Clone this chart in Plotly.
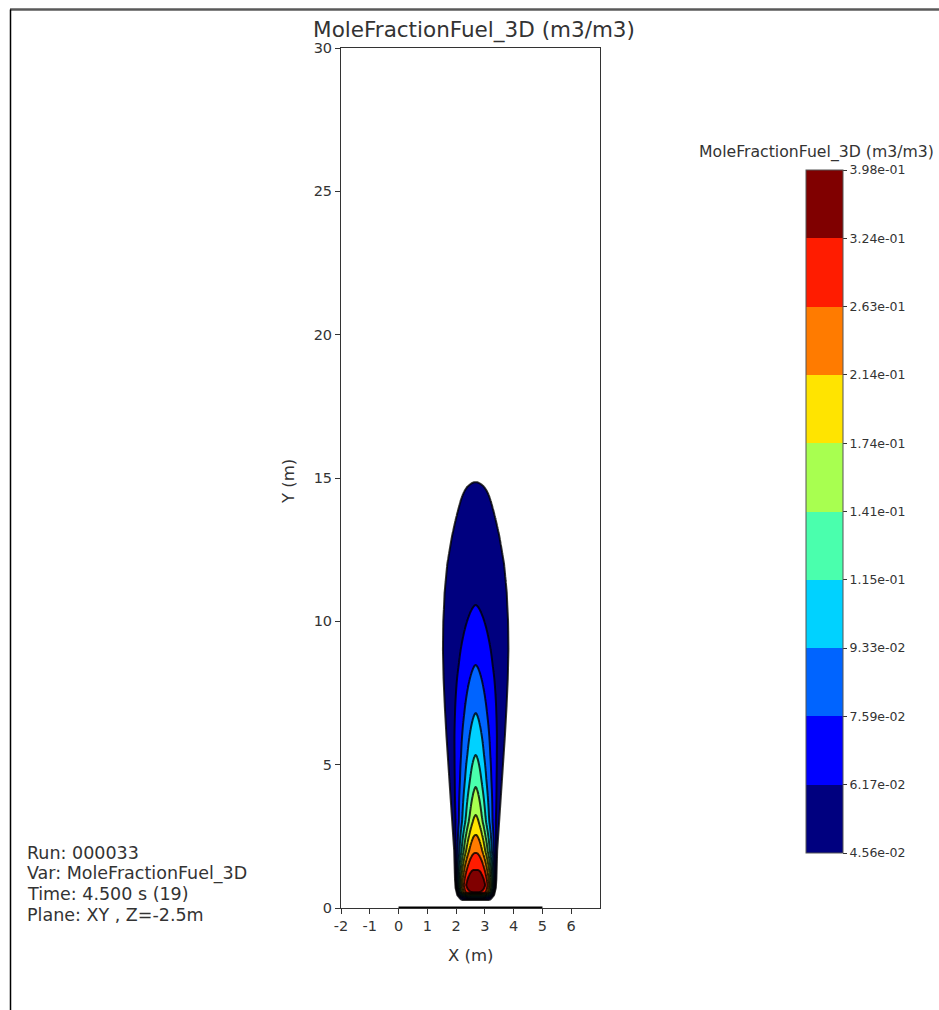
import numpy as np
import plotly.graph_objects as go

# ---------------- data ----------------
level_values = [0.0456, 0.0617, 0.0759, 0.0933, 0.115, 0.141, 0.174, 0.214, 0.263, 0.324, 0.398]
level_labels = ["4.56e-02", "6.17e-02", "7.59e-02", "9.33e-02", "1.15e-01", "1.41e-01",
                "1.74e-01", "2.14e-01", "2.63e-01", "3.24e-01", "3.98e-01"]
band_colors = ["#00007f", "#0000ff", "#0064ff", "#00d2ff", "#4affad",
               "#a8ff50", "#ffe400", "#ff7b00", "#ff1c00", "#800000"]

# plume centreline: height (m) vs contour-level index (tops of each closed contour)
centre_y = [0.0, 0.18, 0.28, 0.55, 0.80, 1.33, 1.92, 2.55, 3.24, 4.22, 5.34, 6.80, 8.48, 10.57, 14.86, 16.0, 30.0]
centre_idx = [-1.5, -1.0, 0.0, 9.0, 9.9, 9.0, 8.0, 7.0, 6.0, 5.0, 4.0, 3.0, 2.0, 1.0, 0.0, -1.0, -1.0]
plume_x = 2.68

# plume outer half-width (m) vs height
width_y = [0.0, 0.18, 0.30, 0.45, 0.70, 1.0, 2.0, 3.0, 4.0, 5.0, 6.0, 7.0, 8.0, 9.0, 10.0, 11.0, 12.0, 13.0, 14.0, 14.5, 15.0, 30.0]
half_w = [0.30, 0.36, 0.52, 0.64, 0.70, 0.72, 0.75, 0.82, 0.89, 0.96, 1.03, 1.09, 1.14, 1.17, 1.17, 1.14, 1.06, 0.91, 0.72, 0.64, 0.58, 0.58]

# lateral profile shape exponent vs height
shape_y = [0.0, 1.0, 2.0, 3.0, 4.5, 30.0]
shape_p = [3.0, 2.2, 1.3, 0.9, 0.8, 0.8]

ground_x = [0, 5]
ground_y = [0, 0]

x_ticks = [-2, -1, 0, 1, 2, 3, 4, 5, 6]
x_tick_labels = ["-2", "-1", "0", "1", "2", "3", "4", "5", "6"]
y_ticks = [0, 5, 10, 15, 20, 25, 30]

info_lines = ["Run: 000033", "Var: MoleFractionFuel_3D", "Time: 4.500 s (19)", "Plane: XY , Z=-2.5m"]
title_text = "MoleFractionFuel_3D (m3/m3)"

# ---------------- build the field (in level-index space) ----------------
X = np.linspace(-2, 7, 361)
Y = np.concatenate([np.arange(0, 16.0, 0.025), [17.0, 20.0, 25.0, 30.0]])
ci = np.interp(Y, centre_y, centre_idx)[:, None]
hw = np.interp(Y, width_y, half_w)[:, None]
pp = np.interp(Y, shape_y, shape_p)[:, None]
R = np.abs(X[None, :] - plume_x) / hw
a = 0.25
U = (np.sqrt(R ** 2 + a ** 2) - a) / (np.sqrt(1 + a ** 2) - a)
G = U ** pp
Z = np.where(ci > 0, ci - (ci + 0.05) * G, ci - 0.05 * G)
Z = np.round(np.clip(Z, -1.5, 10), 3)

fill_scale = [[0.0, "#ffffff"]] + [[(k + 1) / 10, c] for k, c in enumerate(band_colors)]
bar_scale = []
for k, c in enumerate(band_colors):
    bar_scale.append([k / 10, c])
    bar_scale.append([(k + 1) / 10, c])

W, H = 939, 1010
FONT = "DejaVu Sans"
TXT = "#333333"

fig = go.Figure()
fig.add_trace(go.Contour(
    x=X, y=Y, z=Z, autocontour=False,
    contours=dict(start=0, end=9, size=1, coloring="fill", showlines=True),
    line=dict(color="rgba(0,0,0,0.8)", width=2.0, smoothing=1),
    colorscale=fill_scale, showscale=False, hoverinfo="skip"))

fig.add_trace(go.Scatter(
    x=ground_x, y=ground_y, mode="lines", line=dict(color="black", width=3),
    cliponaxis=False, showlegend=False, hoverinfo="skip"))

fig.add_trace(go.Scatter(
    x=[None], y=[None], mode="markers", showlegend=False, hoverinfo="skip",
    marker=dict(color=[0], colorscale=bar_scale, cmin=0, cmax=10, showscale=True,
                colorbar=dict(
                    tickmode="array", tickvals=list(range(11)), ticktext=level_labels,
                    ticks="outside", ticklen=4, tickwidth=1, tickcolor=TXT,
                    tickfont=dict(family=FONT, size=12.5, color=TXT),
                    thickness=37, thicknessmode="pixels",
                    len=683 / H, lenmode="fraction",
                    x=806 / W, xanchor="left", xpad=0,
                    y=(H - 170) / H, yanchor="top", ypad=0,
                    outlinewidth=1, outlinecolor="#555555"))))

axis_common = dict(ticks="outside", ticklen=5, tickwidth=1, tickcolor=TXT,
                   showline=True, linecolor=TXT, linewidth=1, mirror=True,
                   showgrid=False, zeroline=False, automargin=False,
                   tickfont=dict(family=FONT, size=14.5, color=TXT))

fig.update_layout(
    width=W, height=H, margin=dict(l=0, r=0, t=0, b=0),
    paper_bgcolor="white", plot_bgcolor="white", template="none",
    xaxis=dict(domain=[341 / W, 600 / W], range=[-2, 7], tickmode="array",
               tickvals=x_ticks, ticktext=x_tick_labels, **axis_common),
    yaxis=dict(domain=[(H - 908) / H, (H - 48) / H], range=[0, 30], tickmode="array",
               tickvals=y_ticks, **axis_common),
    title=dict(text=title_text, x=474 / W, xanchor="center", y=(H - 29) / H, yanchor="middle",
               font=dict(family=FONT, size=21.5, color=TXT)),
    showlegend=False,
)

ann = [
    dict(text="X (m)", x=470.5 / W, y=(H - 955) / H, xref="paper", yref="paper",
         showarrow=False, font=dict(family=FONT, size=16.5, color=TXT), xanchor="center", yanchor="middle"),
    dict(text="Y (m)", x=288 / W, y=(H - 482) / H, xref="paper", yref="paper", textangle=-90,
         showarrow=False, font=dict(family=FONT, size=16.5, color=TXT), xanchor="center", yanchor="middle"),
    dict(text=title_text, x=697 / W, y=(H - 152) / H, xref="paper", yref="paper",
         showarrow=False, font=dict(family=FONT, size=15.7, color=TXT), xanchor="left", yanchor="middle"),
]
for i, line in enumerate(info_lines):
    ann.append(dict(text=line, x=25 / W, y=(H - (853 + i * 20.7)) / H, xref="paper", yref="paper",
                    showarrow=False, font=dict(family=FONT, size=17.5, color=TXT),
                    xanchor="left", yanchor="middle"))
fig.update_layout(annotations=ann)

fig.update_layout(shapes=[
    dict(type="line", xref="paper", yref="paper", x0=10 / W, x1=1, y0=(H - 9.5) / H, y1=(H - 9.5) / H,
         line=dict(color="#5a5a5a", width=2.5)),
    dict(type="line", xref="paper", yref="paper", x0=10.5 / W, x1=10.5 / W, y0=0, y1=(H - 9.5) / H,
         line=dict(color="black", width=1.5)),
])

fig.write_html("out.html", config={"displayModeBar": False},
               post_script="document.body.style.margin='0';document.body.style.overflow='hidden';")
